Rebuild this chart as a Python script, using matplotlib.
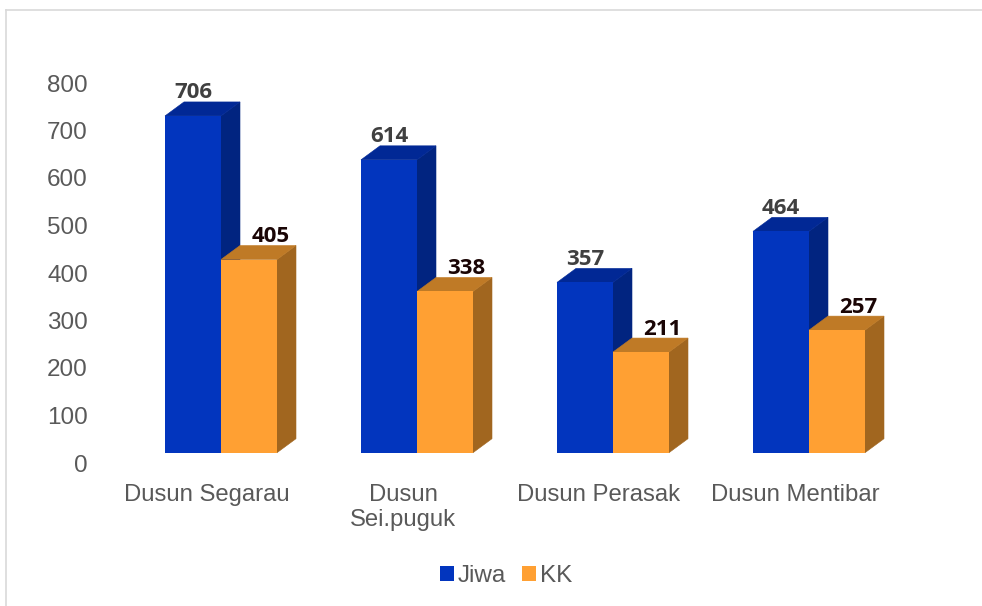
import matplotlib
matplotlib.use('Agg')
import matplotlib.pyplot as plt
from matplotlib.lines import Line2D
from matplotlib.patches import Patch

plt.rcParams['font.family'] = ['Liberation Sans', 'DejaVu Sans']

categories = ['Dusun Segarau', 'Dusun\nSei.puguk', 'Dusun Perasak', 'Dusun Mentibar']
jiwa = [706, 614, 357, 464]
kk = [405, 338, 211, 257]
y_ticks = [0, 100, 200, 300, 400, 500, 600, 700, 800]

W = 982
H = 606
TEXT_GREY = '#595959'

# pixel layout of the picture
base_px = 452.7
step_px = 196
bar_px = 56
depth_x_px = 19
depth_y_px = 14
px_per_unit = 0.477


def box(left, top, right, bottom):
    return [left / W, 1 - bottom / H, (right - left) / W, (bottom - top) / H]


fig = plt.figure(figsize=(W / 100, H / 100), dpi=100)

# bars
ax = fig.add_axes(box(100, base_px - 800 * px_per_unit, 900, base_px))
ax.set_xlim((100 - 221) / step_px, (900 - 221) / step_px)
ax.set_ylim(0, 800)
ax.patch.set_alpha(0)
for s in ax.spines.values():
    s.set_visible(False)
ax.tick_params(axis='y', left=False, labelleft=False)

width = bar_px / step_px
dx = depth_x_px / step_px
dy = depth_y_px / px_per_unit


def bar3d(x0, value, front, top, side, z):
    # thin edge in the face colour so the bar behind does not bleed through the seams
    ax.fill([x0 + width, x0 + width + dx, x0 + width + dx, x0 + width],
            [0, dy, value + dy, value], color=side, lw=0.4, zorder=z)
    ax.fill([x0, x0 + dx, x0 + width + dx, x0 + width],
            [value, value + dy, value + dy, value], color=top, lw=0.4, zorder=z)
    ax.bar(x0, value, width, align='edge', color=front, lw=0, zorder=z + 0.5)


for i in range(len(categories)):
    bar3d(i - width, jiwa[i], '#0235BE', '#012895', '#012480', 2)
    bar3d(i, kk[i], '#FFA033', '#BF7A26', '#A1661F', 3)
    ax.annotate(str(jiwa[i]), (i - width / 2, jiwa[i]), xytext=(0, 23 * 0.72), textcoords='offset points',
                ha='center', va='center', fontsize=16, fontweight='bold', color='#404040',
                family='Open Sans', zorder=5)
    ax.annotate(str(kk[i]), (i + width / 2, kk[i]), xytext=(21.5 * 0.72, 23 * 0.72), textcoords='offset points',
                ha='center', va='center', fontsize=16, fontweight='bold', color='#1A0505',
                family='Open Sans', zorder=5)

ax.set_xticks([i - 14 / step_px for i in range(len(categories))])
ax.set_xticklabels(categories, fontsize=17.2, color=TEXT_GREY, linespacing=1.18)
ax.tick_params(axis='x', length=0, pad=22.7)

# value labels sit on their own slightly lower scale, as in the picture
ax2 = fig.add_axes(box(92, 83, 900, 463))
ax2.set_ylim(0, 800)
ax2.patch.set_alpha(0)
ax2.set_xticks([])
for s in ax2.spines.values():
    s.set_visible(False)
ax2.set_yticks(y_ticks)
ax2.tick_params(axis='y', length=0, pad=3, labelsize=17.5, labelcolor=TEXT_GREY)

# chart border
border = '#D9D9D9'
fig.add_artist(Line2D([6 / W, 1], [1 - 10 / H, 1 - 10 / H], color=border, lw=1.2))
fig.add_artist(Line2D([6 / W, 6 / W], [0, 1 - 10 / H], color=border, lw=1.2))

handles = [Patch(color='#0235BE', lw=0, label='Jiwa'), Patch(color='#FFA033', lw=0, label='KK')]
fig.legend(handles=handles, loc='center', bbox_to_anchor=(506 / W, 1 - 576 / H), ncol=2, frameon=False,
           fontsize=17.5, labelcolor=TEXT_GREY, handlelength=0.58, handleheight=0.58,
           handletextpad=0.14, columnspacing=0.66, borderpad=0)

fig.savefig('out.png', dpi=100)
